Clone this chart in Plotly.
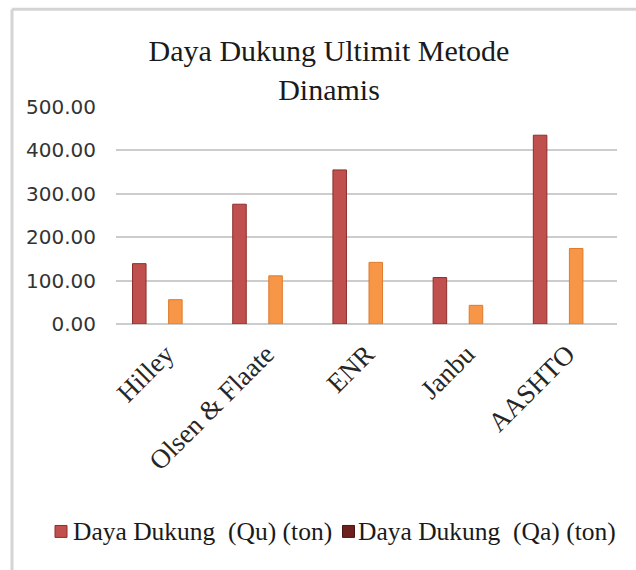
import plotly.graph_objects as go

categories = ["Hilley", "Olsen & Flaate", "ENR", "Janbu", "AASHTO"]
qu_values = [139, 276, 355, 107, 435]
qa_values = [56, 111, 142, 43, 174]
series_names = ["Daya Dukung  (Qu) (ton)", "Daya Dukung  (Qa) (ton)"]
legend_colors = ["#C0504D", "#6E201E"]
legend_borders = ["#8C2E2B", "#4A1412"]
y_tickvals = [0, 100, 200, 300, 400, 500]
y_ticktext = ["0.00", "100.00", "200.00", "300.00", "400.00", "500.00"]
title_text = "Daya Dukung Ultimit Metode<br>Dinamis"

W, H = 636, 570
L, R = 116, 617
T, B = 106.5, 324.3

serif = "Liberation Serif, Times New Roman, serif"
sans = "DejaVu Sans, Verdana, sans-serif"

fig = go.Figure()
fig.add_trace(go.Bar(
    x=categories, y=qu_values, name=series_names[0], showlegend=False,
    offset=-0.335, width=0.135,
    marker=dict(color="#C0504D", line=dict(color="#8C2E2B", width=1)),
))
fig.add_trace(go.Bar(
    x=categories, y=qa_values, name=series_names[1], showlegend=False,
    offset=0.025, width=0.135,
    marker=dict(color="#F79646", line=dict(color="#DE7B2E", width=1)),
))


def px_x(p):
    return (p - L) / (R - L)


def px_y(p):
    return (B - p) / (B - T)


shapes = [
    dict(type="line", xref="paper", yref="paper",
         x0=px_x(12), x1=px_x(660), y0=px_y(8.5), y1=px_y(8.5),
         line=dict(color="#D4D4D4", width=3)),
    dict(type="line", xref="paper", yref="paper",
         x0=px_x(12), x1=px_x(12), y0=px_y(8.5), y1=px_y(600),
         line=dict(color="#D4D4D4", width=3)),
]

# manual legend (swatch + text), mirroring the original layout
legend_swatch_x = [55, 342.5]
legend_text_x = [71, 356]
legend_y = 532.5
annotations = []
for i in range(2):
    sx = legend_swatch_x[i]
    shapes.append(dict(type="rect", xref="paper", yref="paper",
                       x0=px_x(sx), x1=px_x(sx + 12),
                       y0=px_y(legend_y + 6), y1=px_y(legend_y - 6),
                       fillcolor=legend_colors[i],
                       line=dict(color=legend_borders[i], width=1)))
    annotations.append(dict(text=series_names[i], xref="paper", yref="paper",
                            x=px_x(legend_text_x[i]), y=px_y(legend_y),
                            xanchor="left", yanchor="middle", showarrow=False,
                            font=dict(family=serif, size=25.5, color="#1a1a1a")))

fig.update_layout(
    width=W, height=H,
    margin=dict(l=L, r=W - R, t=T, b=H - B, pad=0),
    paper_bgcolor="white", plot_bgcolor="white",
    barmode="overlay",
    showlegend=False,
    title=dict(text=title_text, x=329 / W, xref="container", xanchor="center",
               y=1 - 61 / H, yref="container", yanchor="top",
               font=dict(family=serif, size=30, color="#1a1a1a")),
    xaxis=dict(tickangle=-45, tickfont=dict(family=serif, size=27, color="#262626"),
               showgrid=False, showline=False, ticks="", zeroline=False,
               automargin=False, ticklabelstandoff=8),
    yaxis=dict(range=[0, 500], tickvals=y_tickvals, ticktext=y_ticktext,
               tickfont=dict(family=sans, size=20, color="#333333"),
               showgrid=True, gridcolor="#CCCCCC", gridwidth=1.5,
               zeroline=True, zerolinecolor="#CCCCCC", zerolinewidth=1.5,
               showline=False, ticks="", ticklabelstandoff=19,
               automargin=False),
    shapes=shapes,
    annotations=annotations,
)

fig.write_html("out.html",
               config={"displayModeBar": False},
               post_script="document.body.style.margin='0px';"
                           "document.body.style.overflow='hidden';")
